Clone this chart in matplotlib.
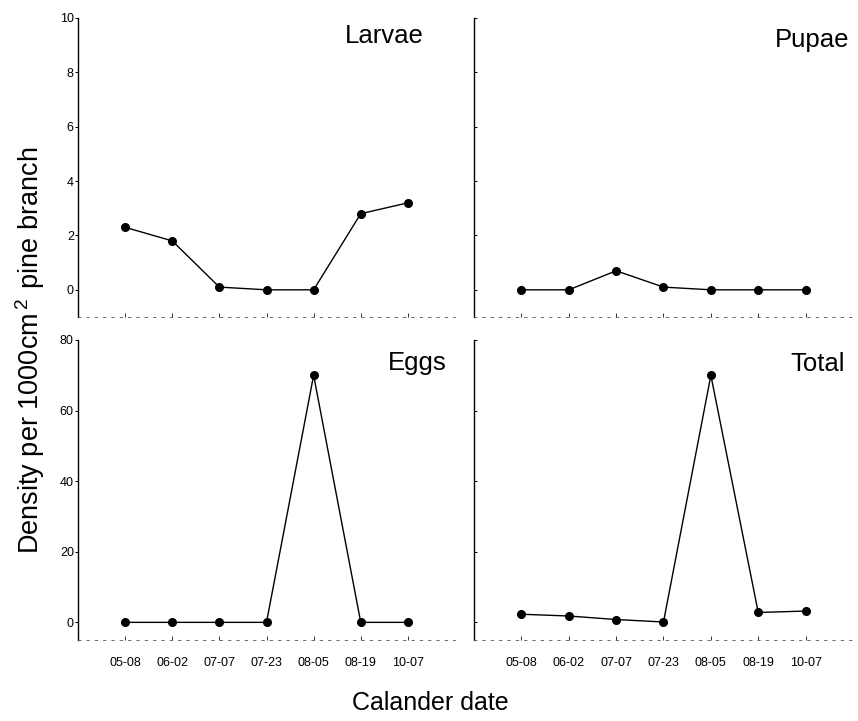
import matplotlib
matplotlib.use("Agg")
import matplotlib.pyplot as plt

plt.rcParams['font.family'] = ['Liberation Sans', 'DejaVu Sans']
plt.rcParams['mathtext.fontset'] = 'custom'
plt.rcParams['mathtext.rm'] = 'Liberation Sans'
plt.rcParams['mathtext.it'] = 'Liberation Sans'

dates = ["05-08", "06-02", "07-07", "07-23", "08-05", "08-19", "10-07"]
larvae = [2.3, 1.8, 0.1, 0.0, 0.0, 2.8, 3.2]
pupae = [0.0, 0.0, 0.7, 0.1, 0.0, 0.0, 0.0]
eggs = [0.0, 0.0, 0.0, 0.0, 70.0, 0.0, 0.0]
total = [2.3, 1.8, 0.8, 0.1, 70.0, 2.8, 3.2]

panel_names = ["Larvae", "Pupae", "Eggs", "Total"]
panel_data = [larvae, pupae, eggs, total]

W, H = 858, 721
fig = plt.figure(figsize=(W / 100, H / 100), dpi=100)

def rect(x0, x1, ytop, ybot):
    return [x0 / W, 1 - ybot / H, (x1 - x0) / W, (ybot - ytop) / H]

rects = [rect(78, 455, 18, 317), rect(474, 853, 18, 317),
         rect(78, 455, 340, 640), rect(474, 853, 340, 640)]
ylims = [(-1, 10), (-1, 10), (-5, 80), (-5, 80)]
yticks = [[0, 2, 4, 6, 8, 10], [0, 2, 4, 6, 8, 10],
          [0, 20, 40, 60, 80], [0, 20, 40, 60, 80]]
title_pos = [(424, 43), (849, 47), (447, 370), (845, 371)]

x = list(range(len(dates)))
for i, (r, data, name) in enumerate(zip(rects, panel_data, panel_names)):
    ax = fig.add_axes(r)
    ax.plot(x, data, color='black', lw=1.0, marker='o', ms=5.5,
            markerfacecolor='black', markeredgecolor='black')
    ax.set_xlim(-1, 7)
    ax.set_ylim(*ylims[i])
    ax.set_yticks(yticks[i])
    ax.set_xticks(x)
    for s in ['top', 'right']:
        ax.spines[s].set_visible(False)
    ax.spines['left'].set_linewidth(1.0)
    ax.spines['bottom'].set_color('#555555')
    ax.spines['bottom'].set_linewidth(0.6)
    ax.spines['bottom'].set_linestyle((0, (3, 7)))
    ax.tick_params(axis='x', direction='in', length=3, width=0.7,
                   labelsize=9, pad=12, colors='#333333', labelcolor='black')
    if i < 2:
        ax.tick_params(axis='x', labelbottom=False)
    else:
        ax.set_xticklabels(dates)
    if i % 2 == 0:
        ax.tick_params(axis='y', direction='out', length=2, width=0.7,
                       labelsize=9, pad=1)
    else:
        ax.tick_params(axis='y', direction='in', length=2, width=0.7,
                       labelleft=False)
    tx, ty = title_pos[i]
    fig.text(tx / W, 1 - ty / H, name, ha='right', va='baseline',
             fontsize=18.5)

fig.text(30 / W, 1 - 350 / H, 'Density per 1000cm$^{\\,2\\,}$ pine branch',
         rotation=90, ha='center', va='center', fontsize=19.5)
fig.text(430 / W, 1 - 703 / H, 'Calander date', ha='center', va='center',
         fontsize=18)

fig.savefig('out.png', dpi=100)
